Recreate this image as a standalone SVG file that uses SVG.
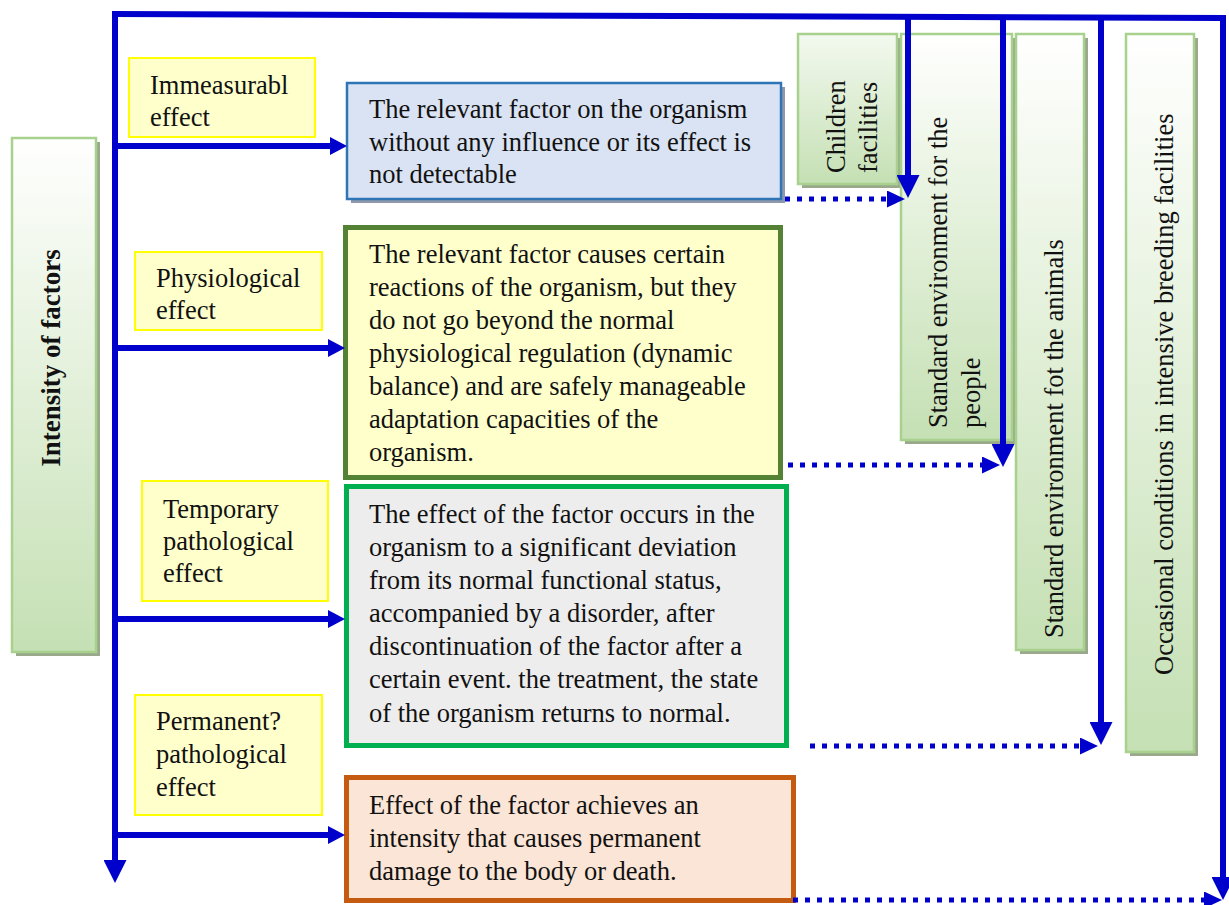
<svg xmlns="http://www.w3.org/2000/svg" width="1229" height="905" viewBox="0 0 1229 905">
<defs>
<style>
.t{font-family:"Liberation Serif","Times New Roman",serif;font-size:26.5px;fill:#111}
.tb{font-family:"Liberation Serif","Times New Roman",serif;font-size:27px;font-weight:bold;fill:#111}
.lab{fill:#ffffcc;stroke:#ffff00;stroke-width:2}
.gbox{fill:url(#gg);stroke:#a9d18e;stroke-width:2.5}
.gsh{fill:#9aa98c}
.solid{fill:none;stroke:#0000cc;stroke-width:6}
.dot{fill:none;stroke:#0000cc;stroke-width:5;stroke-dasharray:5 7}
</style>
<linearGradient id="gg" x1="0" y1="0" x2="0" y2="1">
<stop offset="0" stop-color="#ffffff"/>
<stop offset="0.35" stop-color="#eaf4e3"/>
<stop offset="1" stop-color="#c5e0b4"/>
</linearGradient>
<linearGradient id="gga" x1="0" y1="0" x2="0" y2="1">
<stop offset="0" stop-color="#f3f9ef"/>
<stop offset="1" stop-color="#c5e0b4"/>
</linearGradient>
<marker id="big" markerUnits="userSpaceOnUse" markerWidth="23" markerHeight="23" refX="0" refY="11.5" orient="auto">
<path d="M0,0 L23,11.5 L0,23 z" fill="#0000cc"/>
</marker>
<marker id="sm" markerUnits="userSpaceOnUse" markerWidth="18" markerHeight="18" refX="0" refY="9" orient="auto">
<path d="M0,0 L17,9 L0,18 z" fill="#0000cc"/>
</marker>
<marker id="dm" markerUnits="userSpaceOnUse" markerWidth="18" markerHeight="17" refX="0" refY="8.5" orient="auto">
<path d="M0,0 L18,8.5 L0,17 z" fill="#0000cc"/>
</marker>
</defs>
<rect width="1229" height="905" fill="#ffffff"/>

<g id="intensity">
<rect class="gsh" x="16" y="142" width="84" height="514"/>
<rect class="gbox" x="12" y="138" width="84" height="514"/>
<text class="tb" transform="translate(60,358) rotate(-90)" text-anchor="middle">Intensity of factors</text>
</g>

<g id="label-immeasurable">
<rect class="lab" x="129" y="58" width="186" height="79"/>
<text class="t" x="150" y="94">Immeasurabl</text>
<text class="t" x="150" y="126">effect</text>
</g>
<g id="label-physiological">
<rect class="lab" x="135" y="252" width="187" height="78"/>
<text class="t" x="156" y="287">Physiological</text>
<text class="t" x="156" y="319">effect</text>
</g>
<g id="label-temporary">
<rect class="lab" x="142" y="481" width="186" height="120"/>
<text class="t" x="163" y="518">Temporary</text>
<text class="t" x="163" y="550">pathological</text>
<text class="t" x="163" y="582">effect</text>
</g>
<g id="label-permanent">
<rect class="lab" x="135" y="695" width="187" height="120"/>
<text class="t" x="156" y="730">Permanent?</text>
<text class="t" x="156" y="763">pathological</text>
<text class="t" x="156" y="796">effect</text>
</g>

<g id="desc-immeasurable">
<rect x="351" y="87" width="434" height="116" fill="#8f99ab"/>
<rect x="347" y="83" width="434" height="116" fill="#dae3f3" stroke="#2e75b6" stroke-width="2.5"/>
<text class="t" x="369" y="118">The relevant factor on the organism</text>
<text class="t" x="369" y="151">without any influence or its effect is</text>
<text class="t" x="369" y="183">not detectable</text>
</g>
<g id="desc-physiological">
<rect x="345.5" y="227.5" width="435" height="250" fill="#ffffcc" stroke="#548235" stroke-width="5"/>
<text class="t" x="369" y="263">The relevant factor causes certain</text>
<text class="t" x="369" y="296">reactions of the organism, but they</text>
<text class="t" x="369" y="329">do not go beyond the normal</text>
<text class="t" x="369" y="362">physiological regulation (dynamic</text>
<text class="t" x="369" y="395">balance) and are safely manageable</text>
<text class="t" x="369" y="428">adaptation capacities of the</text>
<text class="t" x="369" y="461">organism.</text>
</g>
<g id="desc-temporary">
<rect x="346.5" y="486.5" width="440" height="259" fill="#ededed" stroke="#00b050" stroke-width="5"/>
<text class="t" x="369" y="523">The effect of the factor occurs in the</text>
<text class="t" x="369" y="556">organism to a significant deviation</text>
<text class="t" x="369" y="589">from its normal functional status,</text>
<text class="t" x="369" y="622">accompanied by a disorder, after</text>
<text class="t" x="369" y="655">discontinuation of the factor after a</text>
<text class="t" x="369" y="688">certain event. the treatment, the state</text>
<text class="t" x="369" y="722">of the organism returns to normal.</text>
</g>
<g id="desc-permanent">
<rect x="346.5" y="777.5" width="447" height="123" fill="#fbe5d6" stroke="#c55a11" stroke-width="5"/>
<text class="t" x="369" y="814">Effect of the factor achieves an</text>
<text class="t" x="369" y="847">intensity that causes permanent</text>
<text class="t" x="369" y="880">damage to the body or death.</text>
</g>

<g id="children">
<rect class="gsh" x="802" y="38" width="99" height="150"/>
<rect x="798" y="34" width="99" height="150" fill="url(#gga)" stroke="#a9d18e" stroke-width="2.5"/>
<text class="t" transform="translate(845,173) rotate(-90)">Children</text>
<text class="t" transform="translate(877,173) rotate(-90)">facilities</text>
</g>
<g id="people">
<rect class="gsh" x="905" y="38" width="111" height="406"/>
<rect class="gbox" x="901" y="34" width="111" height="406"/>
<text class="t" transform="translate(947,428) rotate(-90)">Standard environment for the</text>
<text class="t" transform="translate(980,428) rotate(-90)">people</text>
</g>
<g id="animals">
<rect class="gsh" x="1020" y="38" width="68" height="616"/>
<rect class="gbox" x="1016" y="34" width="68" height="616"/>
<text class="t" transform="translate(1063,638) rotate(-90)">Standard environment fot the animals</text>
</g>
<g id="breeding">
<rect class="gsh" x="1130" y="38" width="68" height="718"/>
<rect class="gbox" x="1126" y="34" width="68" height="718"/>
<text class="t" transform="translate(1173,675) rotate(-90)">Occasional conditions in intensive breeding facilities</text>
</g>

<g id="connectors">
<path class="solid" d="M115,11 L115,860" marker-end="url(#big)"/>
<path class="solid" d="M112,14 L1223,18 L1223,877" marker-end="url(#big)"/>
<path class="solid" d="M908,16 L908,175" marker-end="url(#big)"/>
<path class="solid" d="M1003,17 L1003,444" marker-end="url(#big)"/>
<path class="solid" d="M1101,17 L1101,722" marker-end="url(#big)"/>
<path class="solid" d="M115,146 L330,146" marker-end="url(#sm)"/>
<path class="solid" d="M115,348 L328,348" marker-end="url(#sm)"/>
<path class="solid" d="M115,619 L328,619" marker-end="url(#sm)"/>
<path class="solid" d="M115,835 L328,835" marker-end="url(#sm)"/>
<path class="dot" d="M785,199 L887,199" marker-end="url(#dm)"/>
<path class="dot" d="M788,465 L982,465" marker-end="url(#dm)"/>
<path class="dot" d="M810,746 L1080,746" marker-end="url(#dm)"/>
<path class="dot" d="M793,900 L1204,900" marker-end="url(#dm)"/>
</g>
</svg>
